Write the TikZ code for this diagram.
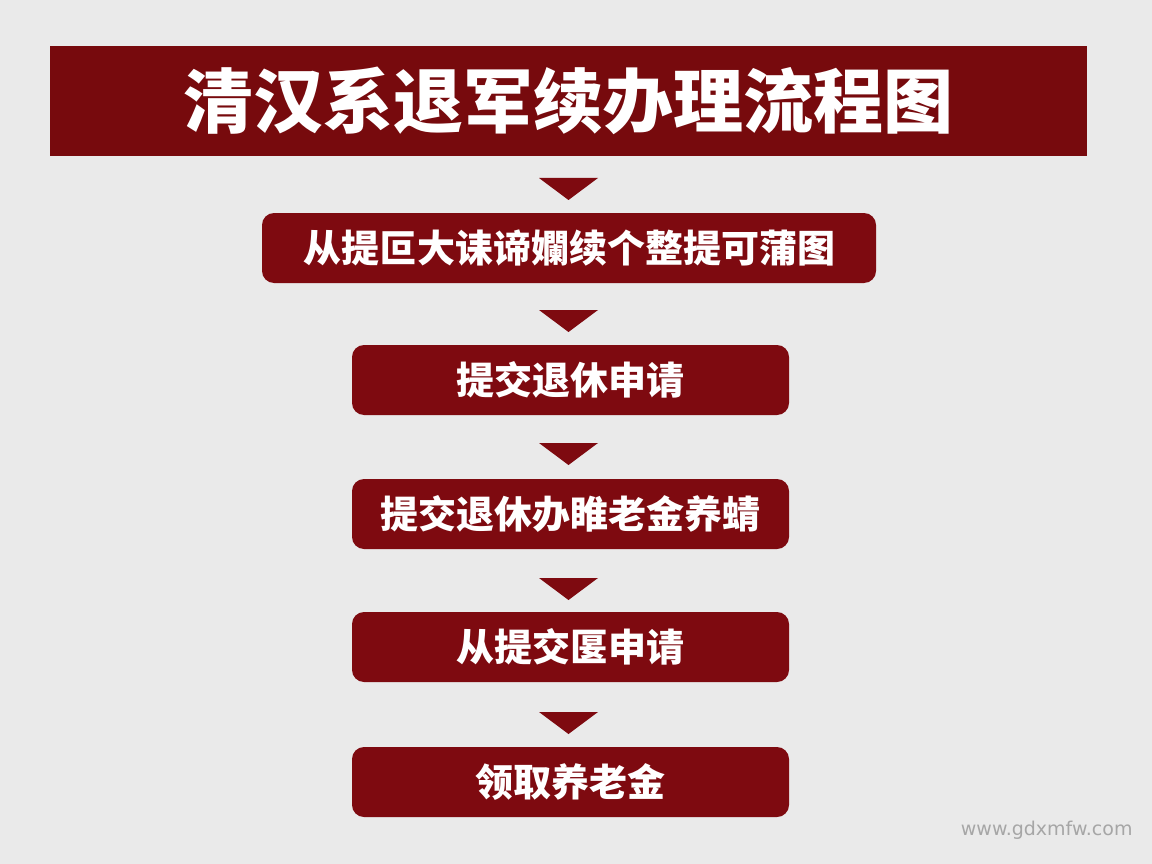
\documentclass[tikz,border=0pt]{standalone}
\usepackage{fontspec}
\usepackage{tikz}
\setmainfont{Noto Sans CJK SC}
\newfontfamily\webfont{DejaVu Sans}[Scale=1]

\definecolor{flowred}{HTML}{7E0A10}
\definecolor{titlered}{HTML}{770A0D}
\definecolor{paper}{HTML}{EAEAEA}

\tikzset{
  titlebar/.style={fill=titlered, text=white, inner sep=0pt,
    minimum width=1037pt, minimum height=110pt, font=\fontsize{70pt}{76pt}\selectfont\bfseries},
  stepbox/.style={fill=flowred, text=white, rounded corners=12pt, inner sep=0pt,
    minimum height=70pt, font=\fontsize{38pt}{42pt}\selectfont\bfseries},
  downtri/.style={fill=flowred},
}

\begin{document}
\begin{tikzpicture}[x=1pt, y=-1pt]
          \fill[paper] (0,0) rectangle (1152,864);
          \useasboundingbox (0,0) rectangle (1152,864);
          \node [titlebar] (title) at (568.5, 101) {清汉系退军续办理流程图};
          \node [stepbox, minimum width=614pt] (s1) at (569, 248) {从提叵大诔谛孄续个整提可蒲图};
          \node [stepbox, minimum width=437pt] (s2) at (570.5, 380) {提交退休申请};
          \node [stepbox, minimum width=437pt] (s3) at (570.5, 514) {提交退休办睢老金养蜻};
          \node [stepbox, minimum width=437pt] (s4) at (570.5, 647) {从提交匽申请};
          \node [stepbox, minimum width=437pt] (s5) at (570.5, 782) {领取养老金};
          % triangles between the steps
          \foreach \ty in {178, 310, 443, 578, 712}
            \fill [downtri] (539, \ty) -- (598, \ty) -- (568.5, \ty+22) -- cycle;
          \node [text=black!35, anchor=east, font=\webfont\fontsize{19pt}{22pt}\selectfont] (web) at (1136, 830) {www.gdxmfw.com};
        \end{tikzpicture}
\end{document}
